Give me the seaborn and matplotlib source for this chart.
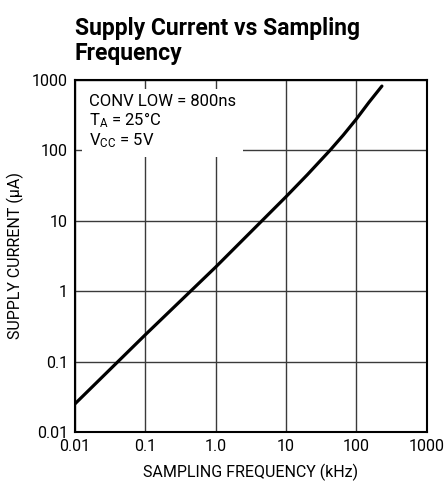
import pandas as pd
import matplotlib
matplotlib.use("Agg")
import matplotlib.pyplot as plt
import seaborn as sns

# === Data ===
freq_khz = [0.01, 0.1, 1.0, 10, 20, 42, 65, 100, 150, 230]
supply_ua = [0.025, 0.24, 2.2, 22, 45, 100, 165, 280, 480, 820]
tick_vals = [0.01, 0.1, 1, 10, 100, 1000]
x_tick_labels = ["0.01", "0.1", "1.0", "10", "100", "1000"]
y_tick_labels = ["0.01", "0.1", "1", "10", "100", "1000"]

df = pd.DataFrame({"freq": freq_khz, "current": supply_ua})

# === Style ===
sns.set_style("white")
plt.rcParams["font.family"] = ["Roboto", "DejaVu Sans"]
plt.rcParams["mathtext.default"] = "regular"
plt.rcParams["text.color"] = "black"
plt.rcParams["axes.labelcolor"] = "black"
plt.rcParams["xtick.color"] = "black"
plt.rcParams["ytick.color"] = "black"

fig = plt.figure(figsize=(4.46, 4.88), dpi=100)
ax = fig.add_axes([0.168, 0.115, 0.789, 0.721])

sns.lineplot(data=df, x="freq", y="current", color="black", linewidth=2.3, ax=ax)

ax.set_xscale("log")
ax.set_yscale("log")
ax.set_xlim(0.01, 1000)
ax.set_ylim(0.01, 1000)
ax.set_xticks(tick_vals)
ax.set_xticklabels(x_tick_labels)
ax.set_yticks(tick_vals)
ax.set_yticklabels(y_tick_labels)
ax.minorticks_off()
ax.tick_params(length=0, labelsize=11.5, pad=5)

ax.grid(True, which="major", color="#3a3a3a", linewidth=1.0)
for s in ax.spines.values():
    s.set_color("black")
    s.set_linewidth(1.5)

ax.set_xlabel("SAMPLING FREQUENCY (kHz)", fontsize=11.5, labelpad=7)
ax.set_ylabel("SUPPLY CURRENT (μA)", fontsize=11.5, labelpad=6)

# === Condition box ===
ax.text(0.04, 0.96, "CONV LOW = 800ns\n$T_A$ = 25°C\n$V_{CC}$ = 5V",
        transform=ax.transAxes, fontsize=12, va="top", ha="left",
        linespacing=1.1,
        bbox=dict(facecolor="white", edgecolor="none", pad=5))

# === Title ===
fig.text(0.168, 0.965, "Supply Current vs Sampling\nFrequency", fontsize=16.5,
         fontweight="bold", va="top", ha="left", linespacing=1.1)

fig.savefig("out.png", dpi=100)
